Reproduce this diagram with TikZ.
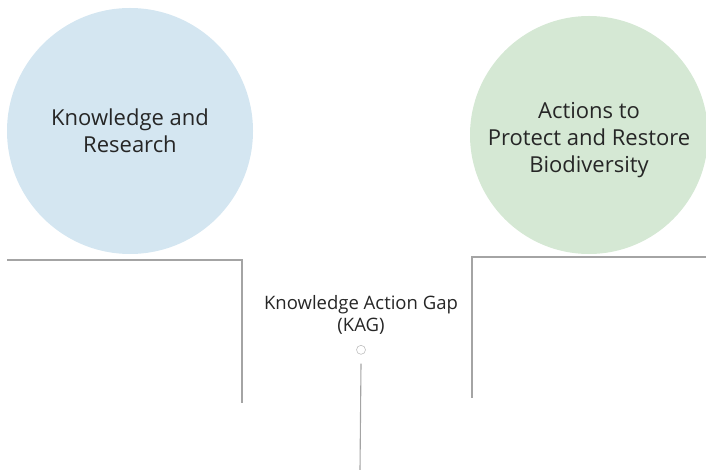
\documentclass[tikz,border=0pt]{standalone}
\usepackage{fontspec}
\setmainfont{Open Sans}
\usetikzlibrary{positioning}

\definecolor{knowblue}{HTML}{D4E6F1}
\definecolor{actgreen}{HTML}{D5E8D4}
\definecolor{rulegray}{HTML}{A4A4A4}
\definecolor{inkgray}{HTML}{262626}

\tikzset{
  topic/.style={circle, fill=#1, inner sep=0pt},
  topictext/.style={align=center, text=inkgray, font=\fontsize{22}{27}\selectfont},
  gaplabel/.style={align=center, text=inkgray, font=\fontsize{18.5}{22}\selectfont},
  marker/.style={circle, draw=rulegray!70, line width=0.6pt, minimum size=9pt, inner sep=0pt},
  rule/.style={draw=rulegray, line width=1.1pt},
}

\begin{document}
\begin{tikzpicture}[x=1pt, y=-1pt]
  \useasboundingbox (0,0) rectangle (706,470);

  %Define nodes
  \node[topic=knowblue, minimum size=246pt] (know) at (130,131) {};
  \node[topictext] (knowtext) at (know.center) {Knowledge and\\Research};
  \node[topic=actgreen, minimum size=238pt] (act) at (589,135) {};
  \node[topictext, yshift=-5pt] (acttext) at (act.center) {Actions to\\Protect and Restore\\Biodiversity};
  \node[gaplabel] (kag) at (361,315) {Knowledge Action Gap\\(KAG)};
  \node[marker, below=7pt of kag] (gap) {};

  %Define corners
  \coordinate (kstart) at (7,260);
  \coordinate (kcorner) at (242,260);
  \coordinate (kend) at (242,403);
  \coordinate (astart) at (706,257);
  \coordinate (acorner) at (472,257);
  \coordinate (aend) at (472,398);
  \coordinate (gapend) at (360,470);

  % Connect the nodes
  \draw[rule] (kstart) -- (kcorner) -- (kend);
  \draw[rule] (astart) -- (acorner) -- (aend);
  \draw[rule] ([yshift=-9pt]gap.south) -- (gapend);

\end{tikzpicture}
\end{document}
